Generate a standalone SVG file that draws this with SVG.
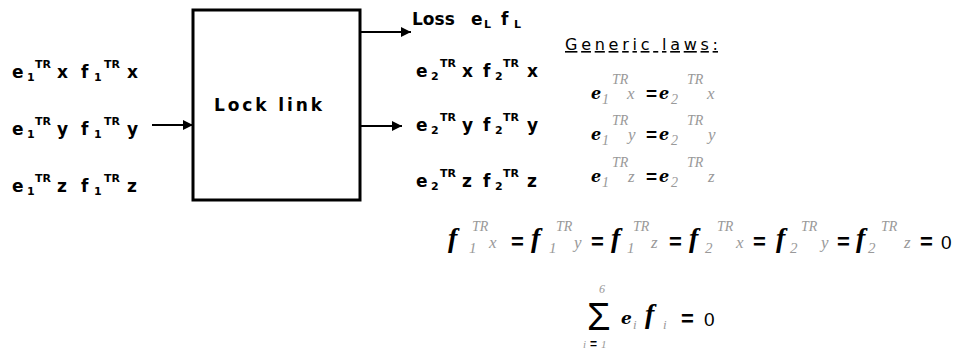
<svg xmlns="http://www.w3.org/2000/svg" width="958" height="350" viewBox="0 0 958 350">
<defs>
<style>
.lb{font-family:"DejaVu Sans",sans-serif;font-weight:bold;font-size:17px;fill:#000}
.lbs{font-size:11px}
.box{fill:#fff;stroke:#000;stroke-width:3}
.con{stroke:#000;stroke-width:2;fill:none}
.gl{font-family:"DejaVu Sans",sans-serif;font-size:16px;fill:#000;text-decoration:underline}
.m{font-family:"DejaVu Serif",serif;font-style:italic;font-weight:bold;fill:#000}
.f{font-family:"Liberation Serif",serif;font-style:italic;font-weight:bold;fill:#000}
.g{font-family:"Liberation Serif",serif;font-style:italic;font-weight:normal;fill:#999}
.eq{font-family:"Liberation Sans",sans-serif;font-weight:bold;fill:#000}
.z{font-family:"Liberation Sans",sans-serif;fill:#000}
</style>
<marker id="ah" viewBox="0 0 10 10" refX="10" refY="5" markerWidth="5" markerHeight="5" markerUnits="strokeWidth" orient="auto">
<path d="M0,0 L10,5 L0,10 z" fill="#000"/>
</marker>
</defs>

<g id="lock-link">
<rect class="box" x="193" y="10" width="167" height="190"/>
<text class="lb" x="214" y="111" textLength="108" lengthAdjust="spacing">Lock link</text>
</g>

<g id="inputs">
<text class="lb"><tspan x="12" y="78">e</tspan><tspan class="lbs" x="27" y="81">1</tspan><tspan class="lbs" x="35" y="68">TR</tspan><tspan x="57" y="78">x</tspan><tspan x="81" y="78">f</tspan><tspan class="lbs" x="94" y="81">1</tspan><tspan class="lbs" x="104" y="68">TR</tspan><tspan x="127" y="78">x</tspan></text>
<text class="lb"><tspan x="12" y="135">e</tspan><tspan class="lbs" x="27" y="138">1</tspan><tspan class="lbs" x="35" y="125">TR</tspan><tspan x="57" y="135">y</tspan><tspan x="81" y="135">f</tspan><tspan class="lbs" x="94" y="138">1</tspan><tspan class="lbs" x="104" y="125">TR</tspan><tspan x="127" y="135">y</tspan></text>
<text class="lb"><tspan x="12" y="192">e</tspan><tspan class="lbs" x="27" y="195">1</tspan><tspan class="lbs" x="35" y="182">TR</tspan><tspan x="57" y="192">z</tspan><tspan x="81" y="192">f</tspan><tspan class="lbs" x="94" y="195">1</tspan><tspan class="lbs" x="104" y="182">TR</tspan><tspan x="127" y="192">z</tspan></text>
</g>

<g id="outputs">
<text class="lb"><tspan x="412" y="25">Loss</tspan><tspan x="471" y="25">e</tspan><tspan class="lbs" x="484" y="28">L</tspan><tspan x="501" y="25">f</tspan><tspan class="lbs" x="514" y="28">L</tspan></text>
<text class="lb"><tspan x="416" y="77">e</tspan><tspan class="lbs" x="431" y="80">2</tspan><tspan class="lbs" x="440" y="67">TR</tspan><tspan x="462" y="77">x</tspan><tspan x="483" y="77">f</tspan><tspan class="lbs" x="495" y="80">2</tspan><tspan class="lbs" x="503" y="67">TR</tspan><tspan x="527" y="77">x</tspan></text>
<text class="lb"><tspan x="416" y="131">e</tspan><tspan class="lbs" x="431" y="134">2</tspan><tspan class="lbs" x="440" y="121">TR</tspan><tspan x="462" y="131">y</tspan><tspan x="483" y="131">f</tspan><tspan class="lbs" x="495" y="134">2</tspan><tspan class="lbs" x="503" y="121">TR</tspan><tspan x="527" y="131">y</tspan></text>
<text class="lb"><tspan x="416" y="187">e</tspan><tspan class="lbs" x="431" y="190">2</tspan><tspan class="lbs" x="440" y="177">TR</tspan><tspan x="462" y="187">z</tspan><tspan x="483" y="187">f</tspan><tspan class="lbs" x="495" y="190">2</tspan><tspan class="lbs" x="503" y="177">TR</tspan><tspan x="527" y="187">z</tspan></text>
</g>

<g id="connectors">
<line class="con" x1="152" y1="125" x2="193" y2="125" marker-end="url(#ah)"/>
<line class="con" x1="360" y1="32" x2="411" y2="32" marker-end="url(#ah)"/>
<line class="con" x1="360" y1="126" x2="402" y2="126" marker-end="url(#ah)"/>
</g>

<g id="generic-laws">
<text class="gl" x="565" y="50" textLength="153" lengthAdjust="spacing">Generic laws:</text>
</g>

<g id="e-laws" font-size="16">
<text><tspan class="m" x="591" y="99">e</tspan><tspan class="g" font-size="14" x="602" y="104">1</tspan><tspan class="g" font-size="14" x="612" y="84">TR</tspan><tspan class="g" font-size="17" x="627" y="99">x</tspan><tspan class="eq" font-size="19" x="646" y="100">=</tspan><tspan class="m" x="659" y="99">e</tspan><tspan class="g" font-size="14" x="671" y="104">2</tspan><tspan class="g" font-size="14" x="687" y="84">TR</tspan><tspan class="g" font-size="17" x="707" y="99">x</tspan></text>
<text><tspan class="m" x="591" y="140">e</tspan><tspan class="g" font-size="14" x="602" y="145">1</tspan><tspan class="g" font-size="14" x="612" y="125">TR</tspan><tspan class="g" font-size="17" x="628" y="140">y</tspan><tspan class="eq" font-size="19" x="646" y="141">=</tspan><tspan class="m" x="659" y="140">e</tspan><tspan class="g" font-size="14" x="671" y="145">2</tspan><tspan class="g" font-size="14" x="687" y="125">TR</tspan><tspan class="g" font-size="17" x="708" y="140">y</tspan></text>
<text><tspan class="m" x="591" y="182">e</tspan><tspan class="g" font-size="14" x="602" y="187">1</tspan><tspan class="g" font-size="14" x="612" y="167">TR</tspan><tspan class="g" font-size="17" x="628" y="182">z</tspan><tspan class="eq" font-size="19" x="646" y="183">=</tspan><tspan class="m" x="659" y="182">e</tspan><tspan class="g" font-size="14" x="671" y="187">2</tspan><tspan class="g" font-size="14" x="687" y="167">TR</tspan><tspan class="g" font-size="17" x="708" y="182">z</tspan></text>
</g>

<g id="f-law">
<text font-size="28"><tspan class="f" x="448" y="247">f</tspan><tspan class="g" font-size="15" x="469" y="253">1</tspan><tspan class="g" font-size="14" x="472" y="231">TR</tspan><tspan class="g" font-size="17" x="489" y="248">x</tspan><tspan class="eq" font-size="22" x="511" y="249">=</tspan><tspan class="f" x="531" y="247">f</tspan><tspan class="g" font-size="15" x="549" y="253">1</tspan><tspan class="g" font-size="14" x="556" y="231">TR</tspan><tspan class="g" font-size="17" x="574" y="248">y</tspan><tspan class="eq" font-size="22" x="591" y="249">=</tspan><tspan class="f" x="611" y="247">f</tspan><tspan class="g" font-size="15" x="627" y="253">1</tspan><tspan class="g" font-size="14" x="633" y="231">TR</tspan><tspan class="g" font-size="17" x="651" y="248">z</tspan><tspan class="eq" font-size="22" x="669" y="249">=</tspan><tspan class="f" x="689" y="247">f</tspan><tspan class="g" font-size="15" x="705" y="253">2</tspan><tspan class="g" font-size="14" x="717" y="231">TR</tspan><tspan class="g" font-size="17" x="736" y="248">x</tspan><tspan class="eq" font-size="22" x="753" y="249">=</tspan><tspan class="f" x="776" y="247">f</tspan><tspan class="g" font-size="15" x="790" y="253">2</tspan><tspan class="g" font-size="14" x="801" y="231">TR</tspan><tspan class="g" font-size="17" x="821" y="248">y</tspan><tspan class="eq" font-size="22" x="837" y="249">=</tspan><tspan class="f" x="856" y="247">f</tspan><tspan class="g" font-size="15" x="868" y="253">2</tspan><tspan class="g" font-size="14" x="881" y="231">TR</tspan><tspan class="g" font-size="17" x="904" y="248">z</tspan><tspan class="eq" font-size="22" x="920" y="249">=</tspan><tspan class="z" font-size="19" x="941" y="249">0</tspan></text>
</g>

<g id="sum-law">
<text class="z" font-size="38" x="587" y="330">Σ</text>
<text class="g" font-size="12" x="599" y="293">6</text>
<text class="g" font-size="11" x="583" y="348">i</text>
<text class="eq" font-size="12" x="590" y="348">=</text>
<text class="g" font-size="11" x="601" y="348">1</text>
<text><tspan class="m" font-size="17" x="621" y="324">e</tspan><tspan class="g" font-size="13" x="633" y="329">i</tspan><tspan class="f" font-size="28" x="645" y="323">f</tspan><tspan class="g" font-size="13" x="663" y="329">i</tspan><tspan class="eq" font-size="22" x="681" y="326">=</tspan><tspan class="z" font-size="19" x="704" y="326">0</tspan></text>
</g>
</svg>
